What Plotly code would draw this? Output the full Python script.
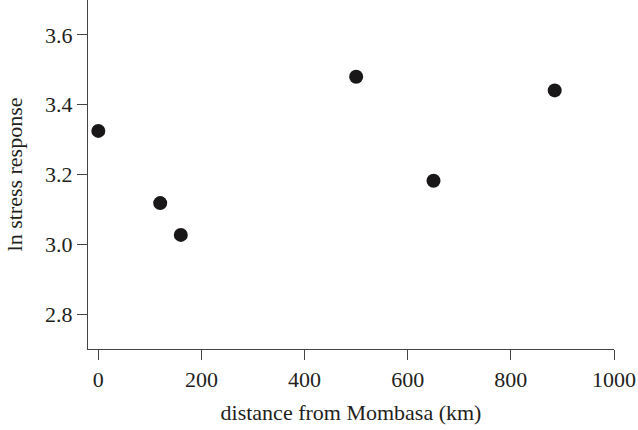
import plotly.graph_objects as go

distance_km = [0, 120, 160, 500, 650, 885]
ln_stress = [3.325, 3.118, 3.027, 3.480, 3.182, 3.441]

x_ticks = [0, 200, 400, 600, 800, 1000]
y_ticks = [2.8, 3.0, 3.2, 3.4, 3.6]
y_tick_text = ["2.8", "3.0", "3.2", "3.4", "3.6"]

font_family = "Liberation Serif, Times New Roman, serif"
axis_color = "#444444"

fig = go.Figure(
    go.Scatter(
        x=distance_km,
        y=ln_stress,
        mode="markers",
        marker=dict(size=14, color="#1a1718", line=dict(width=0)),
        showlegend=False,
    )
)

fig.update_layout(
    width=638,
    height=430,
    margin=dict(l=88, r=24, t=0, b=81),
    paper_bgcolor="white",
    plot_bgcolor="white",
    font=dict(family=font_family, size=22, color="#231f20"),
    xaxis=dict(
        range=[-20, 1000],
        tickvals=x_ticks,
        ticktext=[str(v) for v in x_ticks],
        showgrid=False,
        zeroline=False,
        showline=True,
        linecolor=axis_color,
        linewidth=1.3,
        ticks="outside",
        ticklen=10,
        tickwidth=1.3,
        tickcolor=axis_color,
        tickfont=dict(size=22),
        title=dict(text="distance from Mombasa (km)", font=dict(size=22), standoff=14),
    ),
    yaxis=dict(
        range=[2.7, 3.7],
        tickvals=y_ticks,
        ticktext=y_tick_text,
        showgrid=False,
        zeroline=False,
        showline=True,
        linecolor=axis_color,
        linewidth=1.3,
        ticks="outside",
        ticklen=10,
        tickwidth=1.3,
        tickcolor=axis_color,
        tickfont=dict(size=22),
        title=dict(text="ln stress response", font=dict(size=22), standoff=16),
    ),
)

fig.write_html(
    "out.html",
    config={"displayModeBar": False},
    post_script="document.body.style.margin='0';document.body.style.padding='0';",
)
